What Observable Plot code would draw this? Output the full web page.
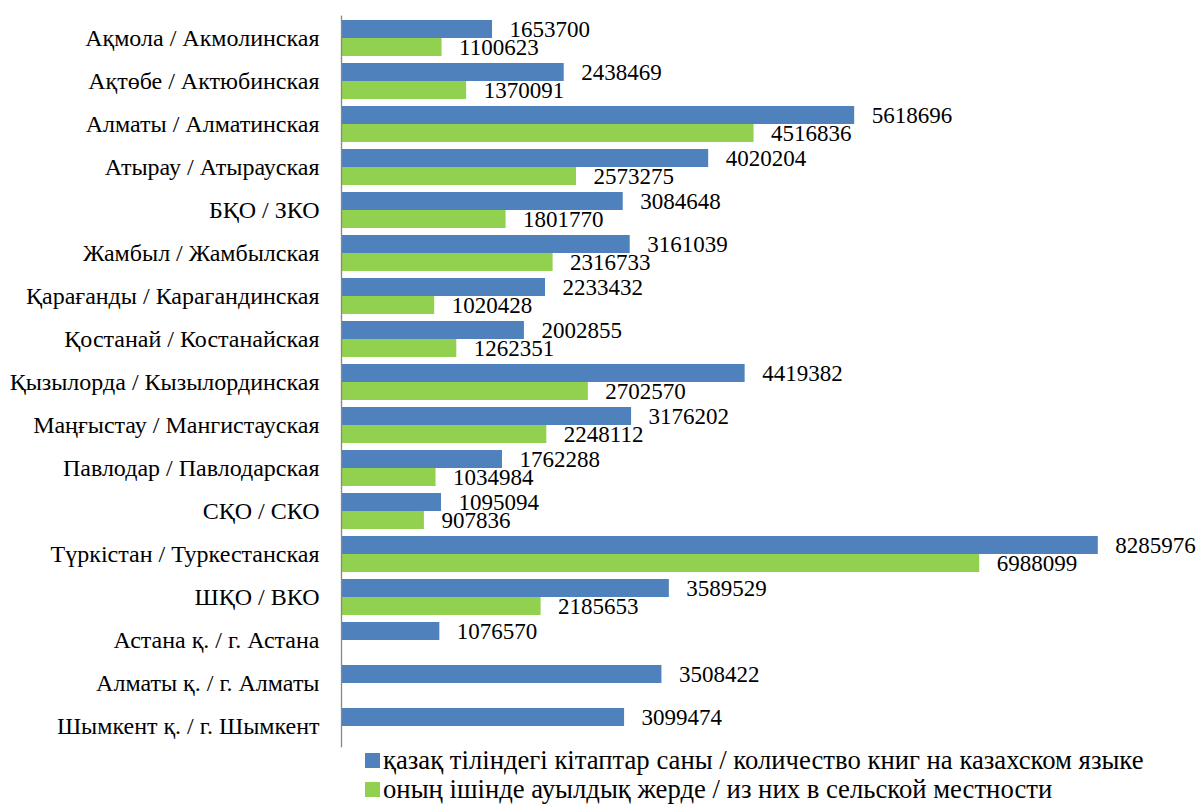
<!DOCTYPE html>
<html>
<head>
<meta charset="utf-8">
<script src="https://cdn.jsdelivr.net/npm/d3@7"></script>
<script src="https://cdn.jsdelivr.net/npm/@observablehq/plot@0.6"></script>
<style>
  body { margin: 0; background: #fff; font-family: 'Liberation Serif'; }
  #chart svg { display: block; }
  .legend { position: relative; height: 52px; color: #000; font-family: 'Liberation Serif'; font-size: 26.7px; }
  .legend .item { position: absolute; left: 365px; display: flex; align-items: center; white-space: nowrap; line-height: 29px; }
  .legend .sw { width: 15px; height: 15px; margin-right: 3px; flex: none; }
</style>
</head>
<body>
<div id="chart"></div>
<div class="legend" id="legend"></div>
<script>
const regions = [
  "Ақмола / Акмолинская",
  "Ақтөбе / Актюбинская",
  "Алматы / Алматинская",
  "Атырау / Атырауская",
  "БҚО / ЗКО",
  "Жамбыл / Жамбылская",
  "Қарағанды / Карагандинская",
  "Қостанай / Костанайская",
  "Қызылорда / Кызылординская",
  "Маңғыстау / Мангистауская",
  "Павлодар / Павлодарская",
  "СҚО / СКО",
  "Түркістан / Туркестанская",
  "ШҚО / ВКО",
  "Астана қ. / г. Астана",
  "Алматы қ. / г. Алматы",
  "Шымкент қ. / г. Шымкент"
];
const kazakhBooks = [1653700, 2438469, 5618696, 4020204, 3084648, 3161039, 2233432, 2002855, 4419382, 3176202, 1762288, 1095094, 8285976, 3589529, 1076570, 3508422, 3099474];
const ruralBooks  = [1100623, 1370091, 4516836, 2573275, 1801770, 2316733, 1020428, 1262351, 2702570, 2248112, 1034984, 907836, 6988099, 2185653, null, null, null];
const seriesNames = [
  "қазақ тіліндегі кітаптар саны / количество книг на казахском языке",
  "оның ішінде ауылдық жерде / из них в сельской местности"
];
const seriesColors = ["#4F81BD", "#92D050"];

const rows = [];
regions.forEach((r, i) => {
  rows.push({region: r, series: seriesNames[0], value: kazakhBooks[i]});
  if (ruralBooks[i] != null) rows.push({region: r, series: seriesNames[1], value: ruralBooks[i]});
});

const chart = Plot.plot({
  width: 1201,
  height: 752,
  marginTop: 10,
  marginBottom: 0,
  marginLeft: 341,
  marginRight: 38,
  style: {fontFamily: "'Liberation Serif'", fontSize: "24px", color: "#000", background: "#fff", overflow: "visible"},
  x: {domain: [0, 9000000], axis: null},
  y: {domain: seriesNames, axis: null, padding: 0},
  fy: {domain: regions, axis: "left", tickSize: 0, tickPadding: 22, label: null, paddingInner: 0.15, paddingOuter: 0.075},
  color: {domain: seriesNames, range: seriesColors},
  marks: [
    Plot.barX(rows, {x: "value", y: "series", fy: "region", fill: "series"}),
    Plot.text(rows, {x: "value", y: "series", fy: "region", text: d => String(d.value), textAnchor: "start", dx: 17, fontSize: 23, fill: "#000"}),
    Plot.ruleX([0], {stroke: "#888", strokeWidth: 1.3, insetTop: -3.4, insetBottom: -3.4})
  ]
});
document.getElementById("chart").appendChild(chart);

const legend = document.getElementById("legend");
seriesNames.forEach((s, i) => {
  const item = document.createElement("div");
  item.className = "item";
  item.style.top = (-6 + i * 29) + "px";
  const sw = document.createElement("span");
  sw.className = "sw";
  sw.style.background = seriesColors[i];
  const t = document.createElement("span");
  t.textContent = s;
  item.appendChild(sw);
  item.appendChild(t);
  legend.appendChild(item);
});
</script>
</body>
</html>
